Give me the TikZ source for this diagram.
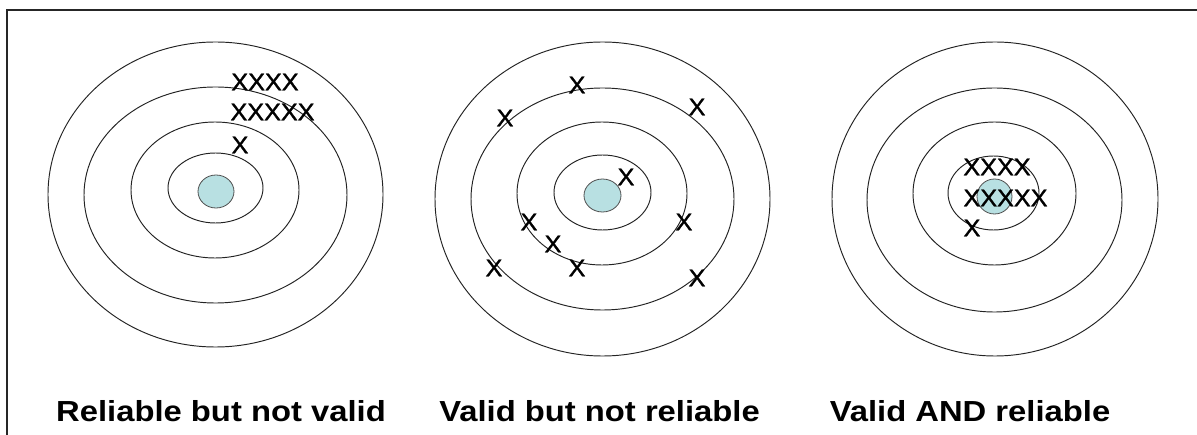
\documentclass[tikz,border=0pt]{standalone}
\usepackage{fontspec}
\setmainfont{Liberation Sans}
\newfontfamily\heavyx[FakeBold=1.2]{Liberation Sans}
\definecolor{bullfill}{RGB}{184,224,226}
\definecolor{ringcol}{RGB}{35,35,35}
\tikzset{
  ring/.style={draw=ringcol, line width=0.95pt},
  bull/.style={draw=ringcol!80, fill=bullfill, line width=0.8pt},
  hit/.style={inner sep=0pt, font=\fontsize{24}{28}\heavyx, xscale=1.05},
  caption/.style={inner sep=0pt, anchor=base, font=\fontsize{29}{34}\selectfont\bfseries, xscale=1.13},
  frameline/.style={draw=black!85, line width=1.8pt}
}
\begin{document}
\begin{tikzpicture}[x=1pt,y=-1pt]
\useasboundingbox (0,0) rectangle (1197,435);
\fill[white] (0,0) rectangle (1197,435);
\coordinate (fc) at (7,10);
\coordinate (fr) at (1200,10);
\coordinate (fb) at (7,440);
\draw[frameline] (fr) -- (fc) -- (fb);
% target 1
\draw[ring] (215.5,194.5) ellipse [x radius=167.5, y radius=152.5];
\draw[ring] (215.5,195) ellipse [x radius=131.5, y radius=108];
\draw[ring] (215,190) ellipse [x radius=84, y radius=68];
\draw[ring] (215.5,188) ellipse [x radius=47.5, y radius=35];
\draw[bull] (216,191.5) ellipse [x radius=18, y radius=16.5];
\node[hit] (a1) at (265,82) {XXXX};
\node[hit] (a2) at (272.5,112) {XXXXX};
\node[hit] (a3) at (240,145) {X};
% target 2
\draw[ring] (602.5,199) ellipse [x radius=167.5, y radius=157];
\draw[ring] (602.5,199) ellipse [x radius=131.5, y radius=111];
\draw[ring] (602,193.5) ellipse [x radius=85, y radius=71.5];
\draw[ring] (602.5,192.5) ellipse [x radius=48.5, y radius=37.5];
\draw[bull] (602.5,195.5) ellipse [x radius=18.5, y radius=16.5];
\node[hit] (b1) at (577,85) {X};
\node[hit] (b2) at (505,118) {X};
\node[hit] (b3) at (697,107) {X};
\node[hit] (b4) at (626,177) {X};
\node[hit] (b5) at (529,222) {X};
\node[hit] (b6) at (684,222) {X};
\node[hit] (b7) at (553,244) {X};
\node[hit] (b8) at (494,268) {X};
\node[hit] (b9) at (577,268) {X};
\node[hit] (b10) at (697,278) {X};
% target 3
\draw[ring] (995,199) ellipse [x radius=163, y radius=157];
\draw[ring] (994.5,200) ellipse [x radius=127.5, y radius=112];
\draw[ring] (994.5,193.5) ellipse [x radius=81.5, y radius=71.5];
\draw[ring] (993.5,193) ellipse [x radius=45.5, y radius=37];
\draw[bull] (994.5,196.5) ellipse [x radius=17.5, y radius=17.5];
\node[hit] (c1) at (997,167) {XXXX};
\node[hit] (c2) at (1005.5,198) {XXXXX};
\node[hit] (c3) at (972,228) {X};
% captions
\node[caption] (l1) at (221,422) {Reliable but not valid};
\node[caption] (l2) at (599.5,422) {Valid but not reliable};
\node[caption] (l3) at (970,422) {Valid AND reliable};
\end{tikzpicture}
\end{document}
